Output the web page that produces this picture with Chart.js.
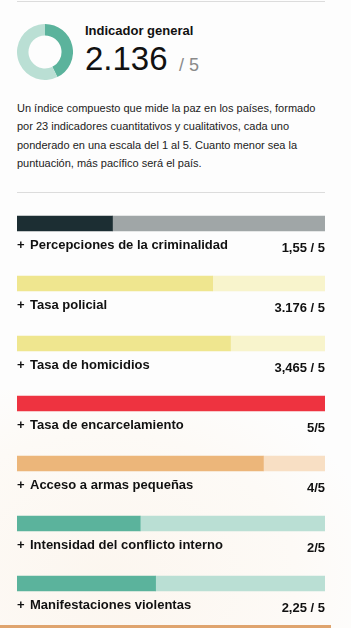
<!DOCTYPE html>
<html>
<head>
<meta charset="utf-8">
<script src="https://cdn.jsdelivr.net/npm/chart.js@4"></script>
<style>
  html, body { margin: 0; padding: 0; }
  body {
    width: 351px; height: 628px; overflow: hidden; position: relative;
    background: #fdfdfd;
    font-family: "Liberation Sans", Arial, sans-serif;
    color: #111;
  }
  .rule { position: absolute; left: 17px; width: 308px; height: 1px; background: #dcdcdc; }
  #bgMap {
    position: absolute; left: 0; top: 390px; width: 351px; height: 238px;
    background: radial-gradient(ellipse at 30% 80%, #fcf6ef 0%, #fdfaf6 55%, #fdfdfd 80%);
  }
  #donutWrap { position: absolute; left: 17px; top: 24px; width: 56px; height: 56px; }
  #title { position: absolute; left: 85px; top: 23px; font-size: 13px; font-weight: bold; }
  #score { position: absolute; left: 85px; top: 40px; font-size: 33px; line-height: 37px; }
  #scoreMax { position: absolute; left: 179px; top: 55px; font-size: 18px; line-height: 20px; color: #8a8a8a; }
  #desc {
    position: absolute; left: 17px; top: 99px; width: 310px;
    font-size: 11px; line-height: 18.3px; color: #222;
  }
  #bottomStrip { position: absolute; left: 0; top: 625px; width: 331px; height: 3px; background: #dfa46e; }
  #barsWrap { position: absolute; left: 0; top: 190px; width: 351px; height: 438px; }
</style>
</head>
<body>
<div id="bgMap"></div>
<div class="rule" style="top:1px"></div>
<div id="donutWrap"><canvas id="donutChart" width="56" height="56"></canvas></div>
<div id="title">Indicador general</div>
<div id="score"></div>
<div id="scoreMax">/ 5</div>
<div id="desc">Un índice compuesto que mide la paz en los países, formado por 23 indicadores cuantitativos y cualitativos, cada uno ponderado en una escala del 1 al 5. Cuanto menor sea la puntuación, más pacífico será el país.</div>
<div class="rule" style="top:192px"></div>
<div id="barsWrap"><canvas id="barsChart" width="351" height="438"></canvas></div>
<div id="bottomStrip"></div>

<script>
// Overall score
const overallScore = 2.136;
const overallLabel = '2.136';
const scaleMax = 5;

// Indicators
const indicators = [
    'Percepciones de la criminalidad',
    'Tasa policial',
    'Tasa de homicidios',
    'Tasa de encarcelamiento',
    'Acceso a armas pequeñas',
    'Intensidad del conflicto interno',
    'Manifestaciones violentas'
];
const scores = [1.55, 3.176, 3.465, 5, 4, 2, 2.25];
const scoreLabels = ['1,55 / 5', '3.176 / 5', '3,465 / 5', '5/5', '4/5', '2/5', '2,25 / 5'];

const fillColors  = ['#1c2e33', '#efe68f', '#efe68f', '#ee3340', '#ecb67a', '#5bb39c', '#5bb39c'];
const trackColors = ['#a0a6a7', '#f8f4cc', '#f8f4cc', '#f8d0d3', '#f8dfc4', '#badfd4', '#badfd4'];

document.getElementById('score').textContent = overallLabel;

new Chart(document.getElementById('donutChart'), {
    type: 'doughnut',
    data: {
        datasets: [{
            data: [overallScore, scaleMax - overallScore],
            backgroundColor: ['#5bb39c', '#badfd4'],
            borderWidth: 0
        }]
    },
    options: {
        responsive: false,
        animation: false,
        cutout: '59%',
        events: [],
        plugins: { legend: { display: false }, tooltip: { enabled: false } }
    }
});

// draws "+ label" and the score text under each bar
const barLabels = {
    id: 'barLabels',
    afterDatasetsDraw(chart) {
        const ctx = chart.ctx;
        const meta = chart.getDatasetMeta(0);
        const area = chart.chartArea;
        ctx.save();
        ctx.fillStyle = '#111';
        ctx.font = 'bold 13px "Liberation Sans", Arial, sans-serif';
        meta.data.forEach((bar, i) => {
            const bottom = bar.y + bar.height / 2;
            ctx.textAlign = 'left';
            ctx.fillText('+', area.left, bottom + 18);
            ctx.fillText(indicators[i], area.left + 13, bottom + 18);
            ctx.textAlign = 'right';
            ctx.fillText(scoreLabels[i], area.right, bottom + 20.5);
        });
        ctx.restore();
    }
};

new Chart(document.getElementById('barsChart'), {
    type: 'bar',
    data: {
        labels: indicators,
        datasets: [
            {
                data: scores,
                backgroundColor: fillColors,
                barThickness: 15,
                borderWidth: 0
            },
            {
                data: scores.map(v => scaleMax - v),
                backgroundColor: trackColors,
                barThickness: 15,
                borderWidth: 0
            }
        ]
    },
    options: {
        indexAxis: 'y',
        responsive: false,
        animation: false,
        events: [],
        layout: { padding: { left: 17, right: 26, top: 3.5, bottom: 14.5 } },
        scales: {
            x: { stacked: true, min: 0, max: scaleMax, display: false },
            y: { stacked: true, display: false }
        },
        plugins: { legend: { display: false }, tooltip: { enabled: false } }
    },
    plugins: [barLabels]
});
</script>
</body>
</html>
